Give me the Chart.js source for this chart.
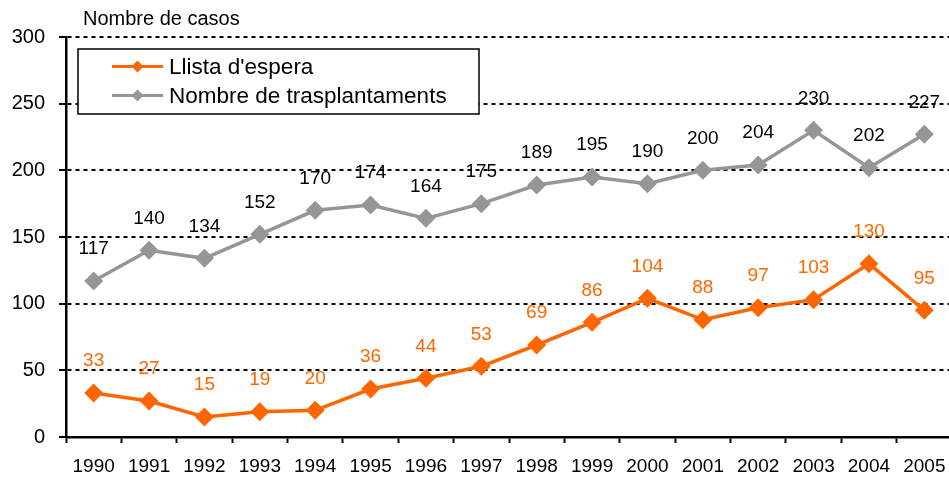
<!DOCTYPE html>
<html>
<head>
<meta charset="utf-8">
<script src="https://cdn.jsdelivr.net/npm/chart.js@4/dist/chart.umd.min.js"></script>
<style>
  html, body { margin: 0; padding: 0; background: #fff; overflow: hidden; }
  #wrap { width: 949px; height: 477px; position: relative; overflow: hidden; }
</style>
</head>
<body>
<div id="wrap"><canvas id="c" width="952" height="477"></canvas></div>
<script>
const years = ['1990','1991','1992','1993','1994','1995','1996','1997','1998','1999','2000','2001','2002','2003','2004','2005'];
const llistaEspera = [33,27,15,19,20,36,44,53,69,86,104,88,97,103,130,95];
const trasplantaments = [117,140,134,152,170,174,164,175,189,195,190,200,204,230,202,227];
const seriesNames = ["Llista d'espera", "Nombre de trasplantaments"];
const axisTitle = 'Nombre de casos';
const yTicks = [0,50,100,150,200,250,300];

const ORANGE = '#FF6600';
const GREY = '#969696';
const FONT = "'Liberation Sans', Arial, sans-serif";

const labelPlugin = {
  id: 'valueLabels',
  afterDatasetsDraw(chart) {
    const ctx = chart.ctx;
    ctx.save();
    ctx.font = '19px ' + FONT;
    ctx.textAlign = 'center';
    ctx.textBaseline = 'middle';
    chart.data.datasets.forEach((ds, i) => {
      const meta = chart.getDatasetMeta(i);
      ctx.fillStyle = ds.labelColor;
      meta.data.forEach((pt, j) => {
        ctx.fillText(String(ds.data[j]), pt.x, pt.y - 32);
      });
    });
    ctx.restore();
  }
};

const legendPlugin = {
  id: 'boxLegend',
  afterDraw(chart) {
    const ctx = chart.ctx;
    ctx.save();
    ctx.fillStyle = '#fff';
    ctx.fillRect(78, 49, 401, 65);
    ctx.strokeStyle = '#000';
    ctx.lineWidth = 1.5;
    ctx.strokeRect(78, 49, 401, 65);
    const order = [0, 1];
    const rows = [66.5, 95.5];
    ctx.font = '22.5px ' + FONT;
    ctx.textBaseline = 'middle';
    ctx.textAlign = 'left';
    order.forEach((di, r) => {
      const ds = chart.data.datasets[di];
      const y = rows[r];
      ctx.strokeStyle = ds.borderColor;
      ctx.lineWidth = 3;
      ctx.beginPath();
      ctx.moveTo(112, y);
      ctx.lineTo(163, y);
      ctx.stroke();
      ctx.fillStyle = ds.borderColor;
      ctx.beginPath();
      ctx.moveTo(137.5, y - 6);
      ctx.lineTo(143.5, y);
      ctx.lineTo(137.5, y + 6);
      ctx.lineTo(131.5, y);
      ctx.closePath();
      ctx.fill();
      ctx.fillStyle = '#000';
      ctx.fillText(ds.label, 169, y + 1);
    });
    ctx.restore();
  }
};

const titlePlugin = {
  id: 'axisTitleTop',
  afterDraw(chart) {
    const ctx = chart.ctx;
    ctx.save();
    ctx.font = '20px ' + FONT;
    ctx.fillStyle = '#000';
    ctx.textAlign = 'left';
    ctx.textBaseline = 'middle';
    ctx.fillText(axisTitle, 83, 19);
    ctx.restore();
  }
};

new Chart(document.getElementById('c'), {
  type: 'line',
  data: {
    labels: years,
    datasets: [
      {
        label: seriesNames[0],
        data: llistaEspera,
        borderColor: ORANGE,
        backgroundColor: ORANGE,
        labelColor: ORANGE,
        borderWidth: 3.5,
        pointStyle: 'rectRot',
        pointRadius: 7,
        pointHoverRadius: 7,
        tension: 0,
        order: 0
      },
      {
        label: seriesNames[1],
        data: trasplantaments,
        borderColor: GREY,
        backgroundColor: GREY,
        labelColor: '#000',
        borderWidth: 3.5,
        pointStyle: 'rectRot',
        pointRadius: 7,
        pointHoverRadius: 7,
        tension: 0,
        order: 1
      }
    ]
  },
  options: {
    responsive: false,
    animation: false,
    devicePixelRatio: 1,
    layout: { autoPadding: false, padding: { top: 37, left: 0, right: 0, bottom: 0 } },
    plugins: { legend: { display: false }, tooltip: { enabled: false } },
    scales: {
      x: {
        offset: true,
        grid: {
          offset: true,
          drawOnChartArea: false,
          drawTicks: true,
          tickLength: 6,
          tickColor: '#000',
          tickWidth: 2
        },
        border: { display: true, color: '#000', width: 2.5 },
        ticks: {
          color: '#000',
          font: { family: FONT, size: 19 },
          padding: 12,
          maxRotation: 0,
          autoSkip: false
        },
        afterFit(scale) {
          scale.height = 40;
          scale.paddingLeft = 0;
          scale.paddingRight = 0;
        }
      },
      y: {
        min: 0,
        max: 300,
        afterBuildTicks(scale) { scale.ticks = yTicks.map(v => ({ value: v })); },
        grid: {
          color: '#000',
          lineWidth: 2,
          drawTicks: true,
          tickLength: 7,
          tickColor: '#000',
          tickWidth: 2,
          tickBorderDash: []
        },
        border: { display: true, color: '#000', width: 2.5, dash: [4, 4] },
        ticks: {
          color: '#000',
          font: { family: FONT, size: 20 },
          padding: 14
        },
        afterFit(scale) {
          scale.width = 66;
          scale.paddingTop = 0;
          scale.paddingBottom = 0;
        }
      }
    }
  },
  plugins: [labelPlugin, legendPlugin, titlePlugin]
});
</script>
</body>
</html>
